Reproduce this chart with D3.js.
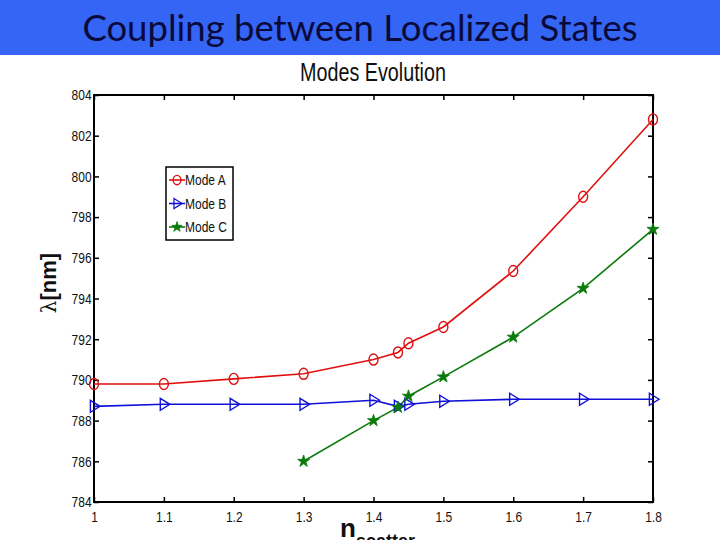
<!DOCTYPE html>
<html>
<head>
<meta charset="utf-8">
<script src="https://cdn.jsdelivr.net/npm/d3@7"></script>
<style>
  body { margin: 0; background: #fff; }
  svg { display: block; }
  .tick-label { font-family: "Liberation Sans", Arial, sans-serif; font-size: 15px; fill: #111; }
</style>
</head>
<body>
<div id="chart"></div>
<script>
  const xValues = [1, 1.1, 1.2, 1.3, 1.4, 1.435, 1.45, 1.5, 1.6, 1.7, 1.8];
  const modeA = [789.8, 789.8, 790.05, 790.3, 791.0, 791.35, 791.8, 792.6, 795.35, 799.0, 802.8];
  const modeB = [788.7, 788.8, 788.8, 788.8, 789.0, 788.7, 788.8, 788.95, 789.05, 789.05, 789.05];
  const modeCx = [1.3, 1.4, 1.435, 1.45, 1.5, 1.6, 1.7, 1.8];
  const modeC = [786.0, 788.0, 788.65, 789.2, 790.15, 792.1, 794.5, 797.4];
  const xTicks = [1, 1.1, 1.2, 1.3, 1.4, 1.5, 1.6, 1.7, 1.8];
  const yTicks = [784, 786, 788, 790, 792, 794, 796, 798, 800, 802, 804];
  const seriesNames = ["Mode A", "Mode B", "Mode C"];

  const width = 720;
  const height = 540;
  const plot = { left: 94, right: 653, top: 95, bottom: 502 };
  const narrow = "scale(0.8,1)";

  const series = [
    { name: seriesNames[0], color: "#e01010", marker: "circle", points: xValues.map((x, i) => [x, modeA[i]]) },
    { name: seriesNames[1], color: "#1010d8", marker: "triangle", points: xValues.map((x, i) => [x, modeB[i]]) },
    { name: seriesNames[2], color: "#0a7a0a", marker: "star", points: modeCx.map((x, i) => [x, modeC[i]]) }
  ];

  const svg = d3.select("#chart").append("svg")
    .attr("width", width)
    .attr("height", height);

  // header band
  svg.append("rect")
    .attr("width", width)
    .attr("height", 55)
    .attr("fill", "#3565f5");

  svg.append("text")
    .attr("x", 360)
    .attr("y", 41)
    .attr("text-anchor", "middle")
    .attr("font-family", "Lato, 'Open Sans', sans-serif")
    .attr("font-size", 36.5)
    .attr("fill", "#0a0a3a")
    .text("Coupling between Localized States");

  const x = d3.scaleLinear().domain([1, 1.8]).range([plot.left, plot.right]);
  const y = d3.scaleLinear().domain([784, 804]).range([plot.bottom, plot.top]);

  // chart title
  svg.append("g")
    .attr("transform", "translate(373,81)")
    .append("text")
    .attr("transform", "scale(0.79,1)")
    .attr("text-anchor", "middle")
    .attr("font-family", "'Liberation Sans', sans-serif")
    .attr("font-size", 25)
    .attr("fill", "#111")
    .text("Modes Evolution");

  // axes: ticks pointing inward, mirrored on top and right
  const axisBottom = d3.axisBottom(x).tickValues(xTicks).tickSize(-5).tickPadding(9).tickFormat(d3.format("~g"));
  const axisTop = d3.axisTop(x).tickValues(xTicks).tickSize(-5).tickFormat("");
  const axisLeft = d3.axisLeft(y).tickValues(yTicks).tickSize(-5).tickPadding(3).tickFormat(d3.format("d"));
  const axisRight = d3.axisRight(y).tickValues(yTicks).tickSize(-5).tickFormat("");

  function styleAxis(g) {
    g.select(".domain").remove();
    g.selectAll(".tick line").attr("stroke", "#000").attr("stroke-width", 1.5);
    g.selectAll(".tick text")
      .attr("class", "tick-label")
      .attr("font-size", null)
      .attr("font-family", null)
      .attr("transform", narrow);
  }

  svg.append("g").attr("transform", `translate(0,${plot.bottom})`).call(axisBottom).call(styleAxis);
  svg.append("g").attr("transform", `translate(0,${plot.top})`).call(axisTop).call(styleAxis);
  svg.append("g").attr("transform", `translate(${plot.left},0)`).call(axisLeft).call(styleAxis);
  svg.append("g").attr("transform", `translate(${plot.right},0)`).call(axisRight).call(styleAxis);

  svg.append("rect")
    .attr("x", plot.left)
    .attr("y", plot.top)
    .attr("width", plot.right - plot.left)
    .attr("height", plot.bottom - plot.top)
    .attr("fill", "none")
    .attr("stroke", "#000")
    .attr("stroke-width", 2);

  const starPath = d3.symbol().type(d3.symbolStar);
  const triPath = (() => {
    const s = 6;
    return `M${-s * 0.6},${-s}L${s},0L${-s * 0.6},${s}Z`;
  })();

  function drawMarker(g, type, color, size) {
    if (type === "circle") {
      g.append("ellipse").attr("rx", 4.5 * size).attr("ry", 5.5 * size)
        .attr("fill", "none").attr("stroke", color).attr("stroke-width", 1.4);
    } else if (type === "triangle") {
      g.append("path").attr("d", triPath).attr("transform", `scale(${size})`)
        .attr("fill", "none").attr("stroke", color).attr("stroke-width", 1.4);
    } else {
      g.append("path").attr("d", starPath.size(45 * size * size)())
        .attr("fill", color).attr("stroke", color).attr("stroke-width", 0.8);
    }
  }

  const line = d3.line().x((d) => x(d[0])).y((d) => y(d[1]));

  series.forEach((s) => {
    svg.append("path")
      .datum(s.points)
      .attr("d", line)
      .attr("fill", "none")
      .attr("stroke", s.color)
      .attr("stroke-width", 1.6);
  });

  series.forEach((s) => {
    svg.append("g").selectAll("g")
      .data(s.points)
      .join("g")
      .attr("transform", (d) => `translate(${x(d[0])},${y(d[1])})`)
      .each(function () { drawMarker(d3.select(this), s.marker, s.color, 1); });
  });

  // legend
  const legend = svg.append("g").attr("transform", "translate(166,167)");
  legend.append("rect")
    .attr("width", 67)
    .attr("height", 73)
    .attr("fill", "#fff")
    .attr("stroke", "#000")
    .attr("stroke-width", 1.5);

  series.forEach((s, i) => {
    const row = legend.append("g").attr("transform", `translate(0,${13 + i * 23.5})`);
    row.append("line").attr("x1", 3).attr("x2", 19).attr("stroke", s.color).attr("stroke-width", 1.6);
    const m = row.append("g").attr("transform", "translate(11,0)");
    drawMarker(m, s.marker, s.color, 0.85);
    row.append("g")
      .attr("transform", "translate(19,5)")
      .append("text")
      .attr("transform", narrow)
      .attr("class", "tick-label")
      .text(s.name);
  });

  // axis labels
  const yl = svg.append("text")
    .attr("transform", "translate(56,283) rotate(-90)")
    .attr("text-anchor", "middle")
    .attr("font-family", "'Liberation Sans', sans-serif")
    .attr("fill", "#111");
  yl.append("tspan").attr("font-size", 20).attr("font-family", "'DejaVu Serif', serif").text("λ");
  yl.append("tspan").attr("font-size", 22).attr("font-weight", "bold").text("[nm]");

  // the subscript runs past the bottom edge, as in the original slide
  const xl = svg.append("text")
    .attr("x", 340)
    .attr("y", 537)
    .attr("font-family", "'Liberation Sans', sans-serif")
    .attr("font-weight", "bold")
    .attr("fill", "#111");
  xl.append("tspan").attr("font-size", 26).text("n");
  xl.append("tspan").attr("font-size", 18).attr("dy", 10).text("scatter");
</script>
</body>
</html>
